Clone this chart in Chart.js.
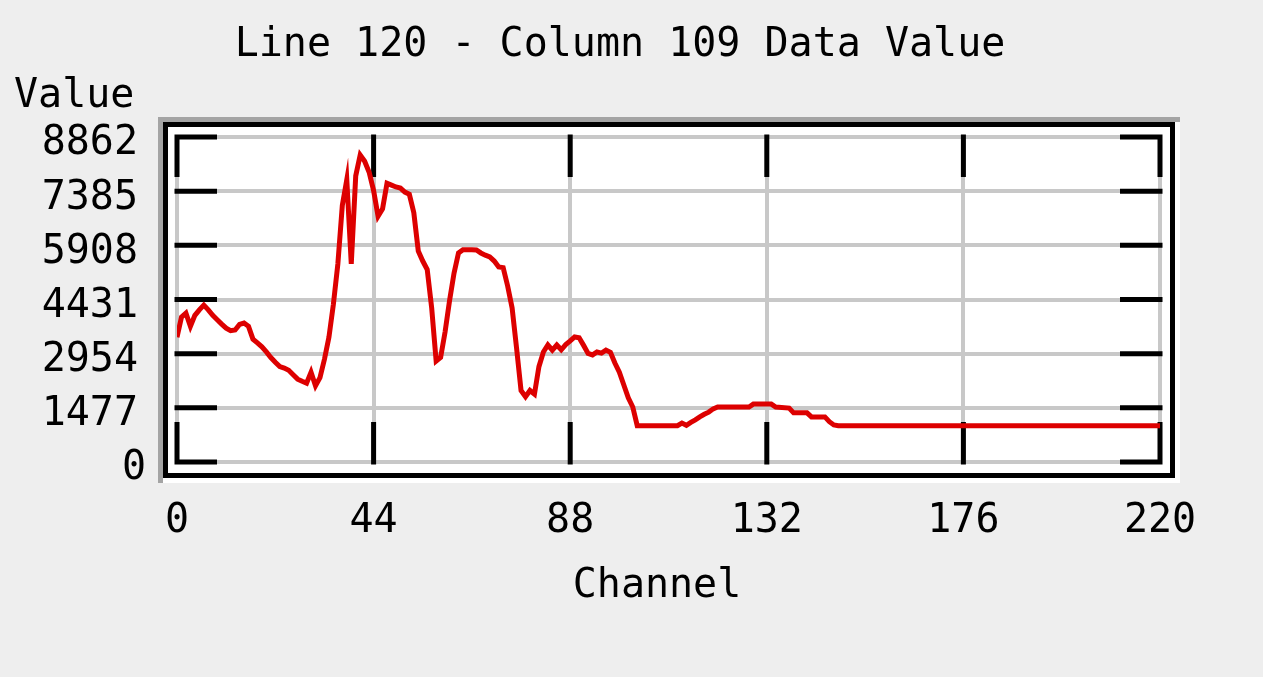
<!DOCTYPE html>
<html>
<head>
<meta charset="utf-8">
<script src="https://cdn.jsdelivr.net/npm/chart.js@4.4.0/dist/chart.umd.min.js"></script>
<style>
  html, body { margin: 0; padding: 0; background: #eeeeee; }
  #wrap { width: 1263px; height: 677px; position: relative; }
</style>
</head>
<body>
<div id="wrap"><canvas id="lineChart"></canvas></div>
<script>
// values
const channels = [0, 1, 2, 3, 4, 5, 6, 7, 8, 9, 10, 11, 12, 13, 14, 15, 16, 17, 18, 19,
    20, 21, 22, 23, 24, 25, 26, 27, 28, 29, 30, 31, 32, 33, 34, 35, 36, 37, 38, 39,
    40, 41, 42, 43, 44, 45, 46, 47, 48, 49, 50, 51, 52, 53, 54, 55, 56, 57, 58, 59,
    60, 61, 62, 63, 64, 65, 66, 67, 68, 69, 70, 71, 72, 73, 74, 75, 76, 77, 78, 79,
    80, 81, 82, 83, 84, 85, 86, 87, 88, 89, 90, 91, 92, 93, 94, 95, 96, 97, 98, 99,
    100, 101, 102, 103, 112, 113, 114, 115, 116, 117, 118, 119, 120, 121, 128, 129, 133, 134, 137, 138,
    141, 142, 145, 146, 147, 148, 220];
const values = [3400, 3950, 4060, 3700, 4000, 4150, 4280, 4150, 4000, 3880, 3760, 3650, 3580, 3600, 3750, 3790, 3700, 3350, 3250, 3140,
    3000, 2850, 2720, 2600, 2560, 2500, 2380, 2260, 2200, 2150, 2450, 2080, 2300, 2800, 3400, 4300, 5400, 7000, 7700, 5400,
    7800, 8370, 8200, 7900, 7400, 6700, 6900, 7600, 7550, 7500, 7470, 7360, 7300, 6800, 5750, 5480, 5250, 4200, 2750, 2850,
    3550, 4400, 5150, 5700, 5790, 5790, 5790, 5780, 5700, 5640, 5590, 5480, 5320, 5300, 4800, 4200, 3100, 1950, 1780, 1950,
    1850, 2600, 3000, 3190, 3050, 3190, 3060, 3200, 3300, 3410, 3390, 3180, 2960, 2920, 3000, 2970, 3050, 2990, 2700, 2450,
    2100, 1750, 1500, 990, 990, 1060, 1000, 1080, 1150, 1230, 1300, 1360, 1450, 1500, 1500, 1580, 1580, 1500, 1470, 1340,
    1340, 1230, 1230, 1100, 1010, 990, 990];

const xTicks = [0, 44, 88, 132, 176, 220];
const yTicks = [0, 1477, 2954, 4431, 5908, 7385, 8862];

const titleText = 'Line 120 - Column 109 Data Value';
const yTitle = 'Value';
const xTitle = 'Channel';

const FONT = '"DejaVu Sans Mono", "Liberation Mono", monospace';

// sunken frame behind the plot, inner tick marks, and the text labels
const framePlugin = {
    id: 'frame',
    beforeDraw(chart) {
        const { ctx, chartArea: a } = chart;
        ctx.save();
        ctx.fillStyle = '#eeeeee';
        ctx.fillRect(0, 0, chart.width, chart.height);
        ctx.fillStyle = '#a4a4a4';
        ctx.fillRect(a.left - 19, a.top - 20, (a.right + 20) - (a.left - 19), (a.bottom + 21) - (a.top - 20));
        ctx.fillStyle = '#ffffff';
        ctx.fillRect(a.left - 14, a.top - 15, (a.right + 20) - (a.left - 14), (a.bottom + 21) - (a.top - 15));
        ctx.strokeStyle = '#000000';
        ctx.lineWidth = 5;
        ctx.strokeRect(a.left - 11.5, a.top - 12.5, (a.right + 12.5) - (a.left - 11.5), (a.bottom + 13.5) - (a.top - 12.5));
        ctx.restore();
    },
    beforeDatasetsDraw(chart) {
        const { ctx, chartArea: a, scales } = chart;
        const len = 40;
        ctx.save();
        ctx.strokeStyle = '#000000';
        ctx.lineWidth = 5;
        ctx.lineCap = 'butt';
        ctx.beginPath();
        scales.x.ticks.forEach(t => {
            const px = scales.x.getPixelForValue(t.value);
            ctx.moveTo(px, a.top - 2.5); ctx.lineTo(px, a.top + len);
            ctx.moveTo(px, a.bottom - len); ctx.lineTo(px, a.bottom + 2.5);
        });
        scales.y.ticks.forEach(t => {
            const py = scales.y.getPixelForValue(t.value);
            ctx.moveTo(a.left - 2.5, py); ctx.lineTo(a.left + len, py);
            ctx.moveTo(a.right - len, py); ctx.lineTo(a.right + 2.5, py);
        });
        ctx.stroke();
        ctx.restore();
    },
    afterDraw(chart) {
        const { ctx, scales } = chart;
        ctx.save();
        ctx.fillStyle = '#000000';
        ctx.font = '40px ' + FONT;
        ctx.textBaseline = 'middle';
        ctx.textAlign = 'center';
        ctx.fillText(titleText, 620, 46);
        ctx.fillText(xTitle, 657, 587);
        ctx.textAlign = 'left';
        ctx.fillText(yTitle, 14, 97);
        // y tick labels sit a little below their tick in the reference
        ctx.textAlign = 'right';
        yTicks.forEach(v => {
            const py = scales.y.getPixelForValue(v);
            ctx.fillText(String(v), v === 0 ? 146 : 138, py + 7);
        });
        ctx.restore();
    }
};

new Chart(document.getElementById('lineChart'), {
    type: 'line',
    data: {
        datasets: [{
            data: channels.map((c, i) => ({ x: c, y: values[i] })),
            borderColor: '#dd0000',
            borderWidth: 5,
            pointRadius: 0,
            tension: 0,
            fill: false
        }]
    },
    options: {
        responsive: true,
        maintainAspectRatio: false,
        animation: false,
        layout: { padding: { top: 137, right: 103, bottom: 0, left: 0 } },
        plugins: {
            legend: { display: false },
            title: { display: false },
            tooltip: { enabled: false }
        },
        scales: {
            x: {
                type: 'linear',
                min: 0,
                max: 220,
                afterBuildTicks: s => { s.ticks = xTicks.map(v => ({ value: v })); },
                afterFit: s => { s.height = 215; },
                grid: { color: '#c8c8c8', lineWidth: 4, drawTicks: false },
                border: { display: false },
                ticks: {
                    color: '#000000',
                    padding: 36,
                    maxRotation: 0,
                    autoSkip: false,
                    font: { family: FONT, size: 40 },
                    callback: v => String(v)
                }
            },
            y: {
                type: 'linear',
                min: 0,
                max: 8862,
                afterBuildTicks: s => { s.ticks = yTicks.map(v => ({ value: v })); },
                afterFit: s => { s.width = 177; },
                grid: { color: '#c8c8c8', lineWidth: 4, drawTicks: false },
                border: { display: false },
                ticks: { display: false }
            }
        }
    },
    plugins: [framePlugin]
});
</script>
</body>
</html>
